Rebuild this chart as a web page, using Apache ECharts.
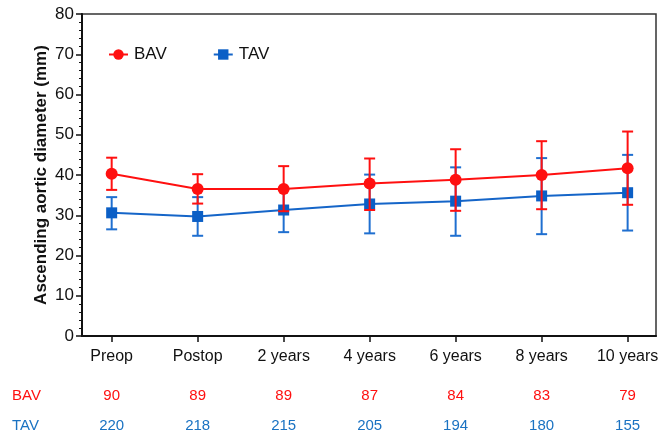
<!DOCTYPE html>
<html>
<head>
<meta charset="utf-8">
<script src="https://cdn.jsdelivr.net/npm/echarts@6/dist/echarts.min.js"></script>
<style>html,body{margin:0;padding:0;background:#fff}#c{width:662px;height:437px}</style>
</head>
<body>
<div id="c"></div>
<script>
const categories = ['Preop', 'Postop', '2 years', '4 years', '6 years', '8 years', '10 years'];
const bavMean = [40.3, 36.5, 36.5, 37.9, 38.8, 40.0, 41.7];
const bavLow  = [36.3, 32.9, 31.0, 31.3, 31.1, 31.5, 32.6];
const bavHigh = [44.3, 40.2, 42.2, 44.1, 46.4, 48.4, 50.8];
const tavMean = [30.6, 29.7, 31.3, 32.8, 33.5, 34.8, 35.6];
const tavLow  = [26.5, 24.9, 25.8, 25.5, 24.9, 25.3, 26.2];
const tavHigh = [34.5, 34.5, 36.5, 40.1, 41.9, 44.2, 45.0];
const bavN = [90, 89, 89, 87, 84, 83, 79];
const tavN = [220, 218, 215, 205, 194, 180, 155];
const yTicks = [0, 10, 20, 30, 40, 50, 60, 70, 80];

const RED = '#ff1010';
const BLUE = '#0b5fc6';
const BLUE_TXT = '#1a72c2';
const FONT = 'Liberation Sans, Arial, sans-serif';
const idx = categories.map((c, i) => i);

function errSeries(name, low, high, color, z) {
  return {
    type: 'custom', name: name + ' err', z: z, silent: true,
    data: idx.map(i => [i, low[i], high[i]]),
    renderItem: function (params, api) {
      const x = api.value(0);
      const lo = api.coord([x, api.value(1)]);
      const hi = api.coord([x, api.value(2)]);
      const hw = 5.5;
      const st = { stroke: color, lineWidth: 2 };
      return {
        type: 'group', children: [
          { type: 'line', shape: { x1: lo[0], y1: lo[1], x2: hi[0], y2: hi[1] }, style: st },
          { type: 'line', shape: { x1: lo[0] - hw, y1: lo[1], x2: lo[0] + hw, y2: lo[1] }, style: st },
          { type: 'line', shape: { x1: hi[0] - hw, y1: hi[1], x2: hi[0] + hw, y2: hi[1] }, style: st }
        ]
      };
    }
  };
}

const baseX = {
  type: 'value', min: -0.345, max: 6.33, gridIndex: 0
};

const chart = echarts.init(document.getElementById('c'), null, { renderer: 'canvas' });
chart.setOption({
  animation: false,
  textStyle: { fontFamily: FONT },
  grid: { left: 82, right: 6, top: 14, bottom: 101, show: true, borderColor: '#333', borderWidth: 1.5, backgroundColor: 'transparent' },
  legend: {
    left: 103, top: 41, itemWidth: 19, itemHeight: 13, itemGap: 46,
    textStyle: { fontSize: 17, color: '#111', fontFamily: FONT, padding: [0, 0, 0, 1] },
    data: ['BAV', 'TAV']
  },
  xAxis: [
    Object.assign({}, baseX, {
      axisLine: { show: true, onZero: false, lineStyle: { color: '#111', width: 2 } },
      axisTick: { show: true, length: 6, customValues: idx, lineStyle: { color: '#111', width: 1.5 } },
      axisLabel: { customValues: idx, formatter: v => categories[Math.round(v)], fontSize: 16, color: '#111', margin: 13, fontFamily: FONT },
      splitLine: { show: false }
    }),
    Object.assign({}, baseX, {
      position: 'bottom', offset: 52,
      axisLine: { show: false, onZero: false }, axisTick: { show: false }, splitLine: { show: false },
      axisLabel: { customValues: idx, formatter: v => String(bavN[Math.round(v)]), fontSize: 15, color: RED, margin: 0, fontFamily: FONT }
    }),
    Object.assign({}, baseX, {
      position: 'bottom', offset: 82,
      axisLine: { show: false, onZero: false }, axisTick: { show: false }, splitLine: { show: false },
      axisLabel: { customValues: idx, formatter: v => String(tavN[Math.round(v)]), fontSize: 15, color: BLUE_TXT, margin: 0, fontFamily: FONT }
    })
  ],
  yAxis: {
    type: 'value', min: yTicks[0], max: yTicks[yTicks.length - 1], interval: 10,
    name: 'Ascending aortic diameter (mm)', nameLocation: 'middle', nameGap: 32, nameMoveOverlap: false,
    nameTextStyle: { fontSize: 17, fontWeight: 'bold', color: '#111', fontFamily: FONT },
    axisLine: { show: true, onZero: false, lineStyle: { color: '#111', width: 2 } },
    axisTick: { show: true, length: 6, lineStyle: { color: '#111', width: 1.5 } },
    minorTick: { show: true, splitNumber: 5, length: 3, lineStyle: { color: '#111', width: 1 } },
    axisLabel: { fontSize: 17, color: '#111', margin: 8, fontFamily: FONT },
    splitLine: { show: false }
  },
  graphic: [
    { type: 'text', left: 12, top: 388, style: { text: 'BAV', fill: RED, fontSize: 15, fontFamily: FONT } },
    { type: 'text', left: 12, top: 418, style: { text: 'TAV', fill: BLUE_TXT, fontSize: 15, fontFamily: FONT } }
  ],
  series: [
    errSeries('TAV', tavLow, tavHigh, '#1f6fd0', 2),
    {
      name: 'TAV', type: 'line', z: 3, data: idx.map(i => [i, tavMean[i]]),
      symbol: 'rect', symbolSize: 11,
      itemStyle: { color: BLUE }, lineStyle: { color: '#1565c8', width: 2 }
    },
    errSeries('BAV', bavLow, bavHigh, RED, 4),
    {
      name: 'BAV', type: 'line', z: 5, data: idx.map(i => [i, bavMean[i]]),
      symbol: 'circle', symbolSize: 12,
      itemStyle: { color: RED }, lineStyle: { color: RED, width: 2 }
    }
  ]
});
</script>
</body>
</html>
